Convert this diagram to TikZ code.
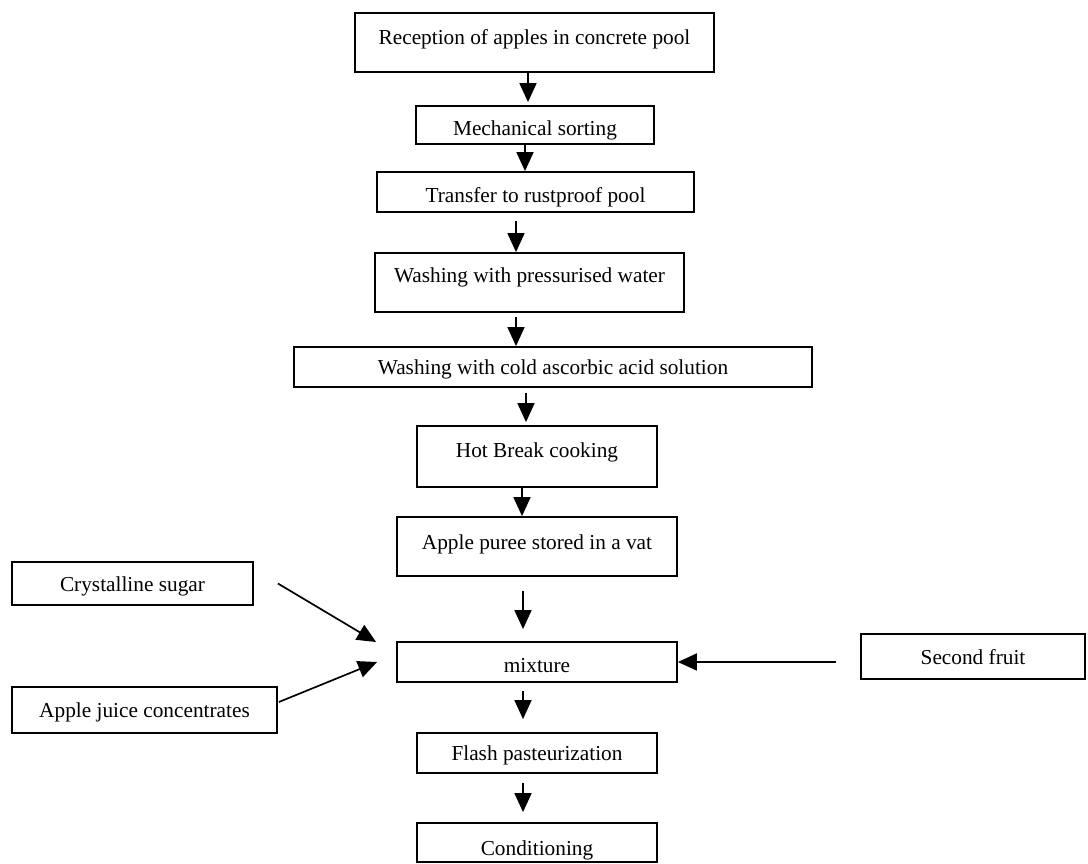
\documentclass[tikz,border=0pt]{standalone}
\usepackage{fontspec}
\setmainfont{Liberation Serif}
\usetikzlibrary{arrows.meta,calc}
\tikzset{
  box/.style={draw, line width=1.8pt, inner sep=0pt, align=center,
    font=\fontsize{21.3}{25}\selectfont, text height=20pt, text depth=5pt},
  arr/.style={line width=1.7pt, -{Triangle[length=19pt,width=17pt]}},
}
\begin{document}
\begin{tikzpicture}[x=1pt,y=-1pt]
\fill[white] (0,0) rectangle (1088,864);
\useasboundingbox (0,0) rectangle (1088,864);

% main column
\node[box, minimum width=359pt, minimum height=59pt, text depth=16pt] (recv) at (534.5,42.5) {Reception of apples in concrete pool};
\node[box, minimum width=238pt, minimum height=38pt, text height=26pt] (mech) at (535,125) {Mechanical sorting};
\node[box, minimum width=317pt, minimum height=40pt, text height=26pt] (trans) at (535.5,192) {Transfer to rustproof pool};
\node[box, minimum width=309pt, minimum height=59pt, text depth=20pt] (wpress) at (529.5,282.5) {Washing with pressurised water};
\node[box, minimum width=518pt, minimum height=40pt] (wcold) at (553,367) {Washing with cold ascorbic acid solution};
\node[box, minimum width=240pt, minimum height=61pt, text depth=18pt] (hot) at (537,456.5) {Hot Break cooking};
\node[box, minimum width=280pt, minimum height=59pt, text depth=14pt] (puree) at (537,546.5) {Apple puree stored in a vat};
\node[box, minimum width=280pt, minimum height=40pt, text height=26pt] (mix) at (537,662) {mixture};
\node[box, minimum width=240pt, minimum height=40pt] (flash) at (537,753) {Flash pasteurization};
\node[box, minimum width=240pt, minimum height=39pt, text height=31pt] (cond) at (537,842.5) {Conditioning};

% side inputs
\node[box, minimum width=241pt, minimum height=43pt] (sugar) at (132.5,583.5) {Crystalline sugar};
\node[box, minimum width=265pt, minimum height=46pt] (juice) at (144.5,710) {Apple juice concentrates};
\node[box, minimum width=224pt, minimum height=45pt] (second) at (973,656.5) {Second fruit};

% arrow columns
\coordinate (xa) at (528,0);
\coordinate (xb) at (525,0);
\coordinate (xc) at (516,0);
\coordinate (xd) at (526,0);
\coordinate (xe) at (522,0);
\coordinate (xf) at (523,0);

\draw[arr, shorten >=3pt] (recv.south -| xa) -- (mech.north -| xa);
\draw[arr] (mech.south -| xb) -- (trans.north -| xb);
\draw[arr, shorten <=8pt] (trans.south -| xc) -- (wpress.north -| xc);
\draw[arr, shorten <=4pt] (wpress.south -| xc) -- (wcold.north -| xc);
\draw[arr, shorten <=5pt, shorten >=3pt] (wcold.south -| xd) -- (hot.north -| xd);
\draw[arr] (hot.south -| xe) -- (puree.north -| xe);
\draw[arr, shorten <=14pt, shorten >=12pt] (puree.south -| xf) -- (mix.north -| xf);
\draw[arr, shorten <=8pt, shorten >=13pt] (mix.south -| xf) -- (flash.north -| xf);
\draw[arr, shorten <=9pt, shorten >=10pt] (flash.south -| xf) -- (cond.north -| xf);

% inputs to mixture
\draw[arr] ($(sugar.east)+(24,0)$) -- ($(mix.west)+(-20,-20)$);
\draw[arr] ($(juice.east)+(1,-8)$) -- ($(mix.west)+(-19,0)$);
\path (second.west) ++(-24,0) coordinate (sfa);
\draw[arr] (sfa |- mix.east) -- (mix.east);
\end{tikzpicture}
\end{document}
